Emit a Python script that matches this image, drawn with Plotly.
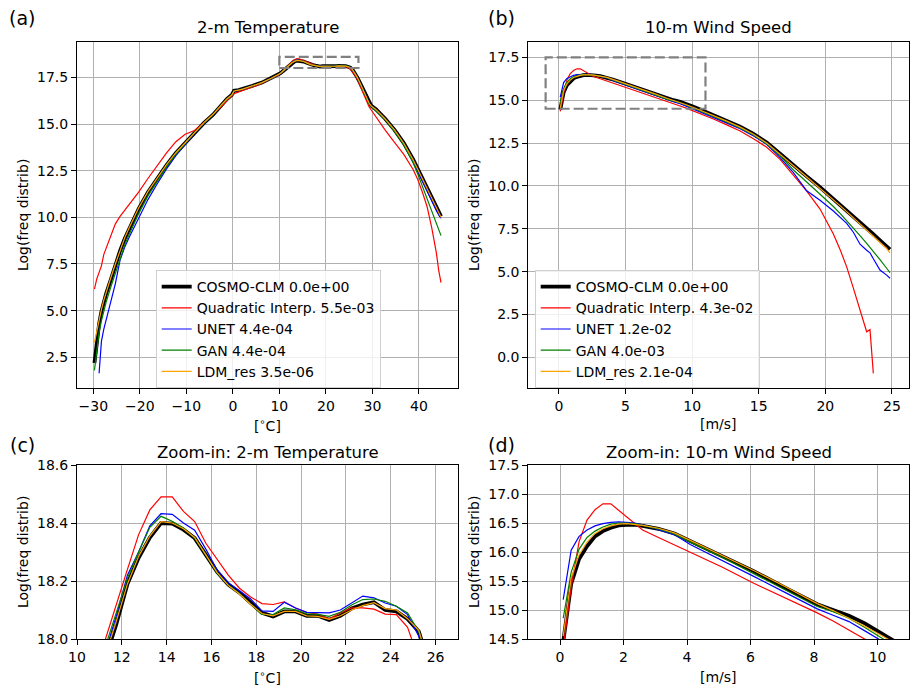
import plotly.graph_objects as go

# temperature bins [deg C] and log frequency per model
temp_bins = [-29.75, -29.25, -28.75, -28.25, -27.75, -27.25, -26.25, -25.25, -24.25, -23.25,
             -22.25, -20.25, -18.25, -16.25, -14.25, -12.25, -10.25, -8.25, -6.25, -4.25,
             -2.25, -1.25, -0.25, 0.25, 1.25, 2.25, 4.25, 6.25, 8.25, 9.75, 10.25,
             10.75, 11.25, 11.75, 12.25, 12.75, 13.25, 13.75, 14.25, 14.75, 15.25, 15.75,
             16.25, 16.75, 17.25, 17.75, 18.25, 18.75, 19.25, 19.75, 20.25, 20.75, 21.25,
             21.75, 22.25, 22.75, 23.25, 23.75, 24.25, 24.75, 25.25, 25.75, 26.25, 26.75,
             27.25, 27.75, 28.25, 28.75, 29.25, 29.75, 30.75, 31.75, 32.75, 34.75, 36.75,
             38.75, 39.75, 40.75, 41.75, 42.75, 43.25, 43.75, 44.25, 44.75]

temp_cosmo = [2.2, 3.5, 4.3, 4.95, 5.45, 5.9, 6.65, 7.45, 8.2, 8.85, 9.4, 10.45, 11.35, 12.1,
              12.8, 13.45, 14.0, 14.55, 15.05, 15.5, 16.1, 16.35, 16.55, 16.78, 16.82, 16.88,
              17.05, 17.22, 17.45, 17.65, 17.72,
              17.83, 17.93, 18.05, 18.19, 18.28, 18.35, 18.40, 18.398, 18.377, 18.348, 18.29,
              18.232, 18.188, 18.16, 18.125, 18.09, 18.078, 18.095, 18.095, 18.08, 18.08,
              18.066, 18.08, 18.105, 18.119, 18.127, 18.10, 18.095, 18.069, 18.026, 17.9,
              17.72, 17.5,
              17.25, 16.98, 16.68, 16.4, 16.15, 15.98, 15.79, 15.54, 15.28, 14.69, 13.98,
              13.1, 12.6, 12.08, 11.57, 11.05, 10.8, 10.55, 10.3, 10.05]

temp_quad = [6.15, 6.7, 7.05, 7.4, 8.0, 8.35, 8.97, 9.65, 10.05, 10.36, 10.7, 11.35, 12.08,
             12.8, 13.45, 14.05, 14.45, 14.65, 15.05, 15.5, 16.0, 16.25, 16.45, 16.62, 16.72,
             16.8, 16.98, 17.18, 17.4, 17.6, 17.72,
             17.85, 17.995, 18.12, 18.24, 18.36, 18.445, 18.49, 18.49, 18.44, 18.405, 18.33,
             18.275, 18.22, 18.175, 18.145, 18.122, 18.119, 18.128, 18.107, 18.092, 18.086,
             18.069, 18.09, 18.107, 18.107, 18.103, 18.086, 18.084, 18.04, 17.93, 17.8,
             17.62, 17.4,
             17.1, 16.8, 16.45, 16.15, 15.94, 15.75, 15.37, 15.02, 14.67, 14.02, 13.37,
             12.56, 12.03, 11.34, 10.58, 9.45, 8.85, 8.1, 7.16, 6.5]

temp_unet = [None, None, 1.65, 3.35, 4.0, 4.5, 5.46, 6.45, 7.7, 8.4, 8.95, 9.95, 10.95, 11.8,
             12.6, 13.3, 13.92, 14.5, 15.02, 15.5, 16.08, 16.33, 16.53, 16.76, 16.8, 16.87,
             17.04, 17.21, 17.43, 17.64, 17.71,
             17.83, 17.95, 18.08, 18.22, 18.30, 18.39, 18.432, 18.43, 18.40, 18.375, 18.31,
             18.238, 18.194, 18.167, 18.138, 18.097, 18.095, 18.127, 18.107, 18.092, 18.09,
             18.09, 18.10, 18.124, 18.148, 18.142, 18.124, 18.113, 18.084, 18.01, 17.88,
             17.7, 17.48,
             17.22, 16.95, 16.65, 16.35, 16.12, 15.95, 15.75, 15.5, 15.26, 14.64, 13.9,
             13.0, 12.5, 11.95, 11.4, 10.85, 10.6, 10.35, 10.15, 9.95]

temp_gan = [1.8, 3.0, 3.85, 4.45, 5.0, 5.45, 6.25, 7.0, 7.8, 8.5, 9.1, 10.2, 11.15, 11.95,
            12.7, 13.38, 13.96, 14.53, 15.04, 15.51, 16.09, 16.34, 16.54, 16.77, 16.81, 16.87,
            17.04, 17.21, 17.44, 17.64, 17.71,
            17.84, 17.97, 18.09, 18.21, 18.30, 18.385, 18.423, 18.406, 18.383, 18.348, 18.29,
            18.227, 18.186, 18.157, 18.12, 18.085, 18.084, 18.107, 18.101, 18.087, 18.085,
            18.078, 18.092, 18.117, 18.136, 18.138, 18.13, 18.113, 18.09, 18.025, 17.89,
            17.71, 17.49,
            17.22, 16.93, 16.62, 16.33, 16.1, 15.93, 15.72, 15.48, 15.24, 14.6, 13.88,
            12.93, 12.32, 11.65, 10.95, 10.3, 10.0, 9.68, 9.35, 9.02]

temp_ldm = [3.3, 3.95, 4.5, 5.05, 5.55, 6.0, 6.75, 7.5, 8.25, 8.9, 9.45, 10.5, 11.38, 12.12,
            12.82, 13.46, 14.01, 14.56, 15.06, 15.52, 16.1, 16.35, 16.55, 16.77, 16.82, 16.88,
            17.05, 17.22, 17.45, 17.65, 17.72,
            17.83, 17.94, 18.06, 18.19, 18.285, 18.355, 18.405, 18.40, 18.38, 18.35, 18.29,
            18.23, 18.185, 18.155, 18.12, 18.088, 18.08, 18.095, 18.095, 18.08, 18.078,
            18.068, 18.08, 18.1, 18.115, 18.125, 18.105, 18.1, 18.07, 18.03, 17.9,
            17.72, 17.5,
            17.25, 16.97, 16.67, 16.39, 16.14, 15.97, 15.78, 15.53, 15.27, 14.68, 13.97,
            13.08, 12.58, 12.06, 11.54, 11.02, 10.77, 10.5, 10.25, 10.0]

# wind speed bins [m/s] and log frequency per model
wind_bins = [0.1, 0.35, 0.6, 0.85, 1.1, 1.35, 1.6, 1.85, 2.1, 2.35, 2.6, 3.1, 3.6, 4.1,
             5.1, 6.1, 7.1, 8.1, 8.6, 9.1, 9.6, 10.1, 10.6, 11.6, 12.6, 13.6, 14.6, 15.6,
             16.6, 17.6, 18.6, 19.6, 20.6, 21.1, 21.6, 22.1, 22.6, 23.1, 23.35, 23.6, 24.1,
             24.6, 24.85]

wind_cosmo = [14.45, 15.45, 15.88, 16.1, 16.27, 16.36, 16.42, 16.46, 16.47, 16.47, 16.45,
              16.40, 16.32, 16.19, 15.93, 15.67, 15.38, 15.1, 15.0, 14.9, 14.77, 14.61, 14.45,
              14.12, 13.8, 13.45, 13.03, 12.53, 11.88, 11.2, 10.56, 9.92, 9.25, 8.9, 8.56,
              8.2, 7.86, 7.52, 7.35, 7.18, 6.83, 6.48, 6.3]

wind_quad = [14.35, 15.4, 16.18, 16.55, 16.73, 16.83, 16.83, 16.72, 16.61, 16.5, 16.38,
             16.25, 16.12, 15.99, 15.74, 15.46, 15.21, 14.95, 14.81, 14.66, 14.52, 14.37,
             14.22, 13.9, 13.56, 13.2, 12.75, 12.25, 11.55, 10.6, 9.7, 8.65, 7.2, 6.3, 5.28,
             4.04, 2.7, 1.5, 1.62, -0.93, None, None, None]

wind_unet = [15.18, 16.03, 16.27, 16.38, 16.45, 16.49, 16.51, 16.52, 16.51, 16.5, 16.47,
             16.39, 16.3, 16.13, 15.86, 15.58, 15.3, 15.02, 14.91, 14.8, 14.64, 14.48, 14.32,
             14.0, 13.68, 13.33, 12.93, 12.43, 11.65, 10.78, 9.72, 9.17, 8.54, 8.18, 7.82,
             7.3, 6.6, 6.25, 6.1, 5.75, 5.1, 4.8, 4.62]

wind_gan = [14.86, 15.65, 16.05, 16.25, 16.36, 16.43, 16.48, 16.5, 16.5, 16.49, 16.46,
            16.4, 16.31, 16.17, 15.91, 15.63, 15.35, 15.06, 14.97, 14.86, 14.7, 14.53, 14.37,
            14.05, 13.73, 13.38, 12.97, 12.45, 11.75, 10.93, 10.23, 9.54, 8.8, 8.4, 7.98,
            7.55, 7.1, 6.65, 6.42, 6.19, 5.7, 5.2, 4.95]

wind_ldm = [14.55, 15.55, 15.95, 16.17, 16.32, 16.4, 16.45, 16.48, 16.49, 16.48, 16.46,
            16.41, 16.33, 16.2, 15.94, 15.68, 15.4, 15.11, 14.99, 14.86, 14.72, 14.57, 14.42,
            14.1, 13.78, 13.43, 13.01, 12.5, 11.86, 11.18, 10.52, 9.87, 9.2, 8.85, 8.5,
            8.14, 7.8, 7.46, 7.28, 7.1, 6.74, 6.35, 6.1]

model_names = ["COSMO-CLM", "Quadratic Interp.", "UNET", "GAN", "LDM_res"]
temp_scores = [0.0, 5.5e-03, 4.4e-04, 4.4e-04, 3.5e-06]
wind_scores = [0.0, 4.3e-02, 1.2e-02, 4.0e-03, 2.1e-04]

temp_series = [temp_cosmo, temp_quad, temp_unet, temp_gan, temp_ldm]
wind_series = [wind_cosmo, wind_quad, wind_unet, wind_gan, wind_ldm]

colors = ["black", "red", "blue", "green", "orange"]
widths = [3.8, 1.2, 1.2, 1.2, 1.2]

W, H = 920, 694
FONT = "DejaVu Sans"


def px_x(p):
    return p / W


def px_y(p):
    return 1 - p / H


fig = go.Figure()

for i, name in enumerate(model_names):
    line = dict(color=colors[i], width=widths[i])
    # (a) full temperature
    fig.add_trace(go.Scatter(x=temp_bins, y=temp_series[i], mode="lines", line=line,
                             name=f"{name} {temp_scores[i]:.1e}", xaxis="x", yaxis="y",
                             legend="legend"))
    # (c) zoom temperature
    fig.add_trace(go.Scatter(x=temp_bins, y=temp_series[i], mode="lines", line=line,
                             showlegend=False, xaxis="x3", yaxis="y3"))
    # (b) full wind
    fig.add_trace(go.Scatter(x=wind_bins, y=wind_series[i], mode="lines", line=line,
                             name=f"{name} {wind_scores[i]:.1e}", xaxis="x2", yaxis="y2",
                             legend="legend2"))
    # (d) zoom wind
    fig.add_trace(go.Scatter(x=wind_bins, y=wind_series[i], mode="lines", line=line,
                             showlegend=False, xaxis="x4", yaxis="y4"))

axis_common = dict(
    showgrid=True, gridcolor="#b0b0b0", gridwidth=1,
    showline=True, linecolor="black", linewidth=1.1, mirror=True,
    ticks="outside", ticklen=5, tickwidth=1.1, tickcolor="black",
    tickfont=dict(family=FONT, size=14, color="black"),
    zeroline=False, automargin=False,
)

left_dom = [px_x(77), px_x(458)]
right_dom = [px_x(528.3), px_x(909.3)]
top_dom = [px_y(388.3), px_y(41.7)]
bot_dom = [px_y(639), px_y(465)]

fig.update_layout(
    xaxis=dict(axis_common, domain=left_dom, anchor="y", range=[-33.5, 48.4],
               tickvals=[-30, -20, -10, 0, 10, 20, 30, 40]),
    yaxis=dict(axis_common, domain=top_dom, anchor="x", range=[0.84, 19.41],
               tickvals=[2.5, 5, 7.5, 10, 12.5, 15, 17.5], tickformat=".1f"),
    xaxis2=dict(axis_common, domain=right_dom, anchor="y2", range=[-2.3, 26.3],
                tickvals=[0, 5, 10, 15, 20, 25]),
    yaxis2=dict(axis_common, domain=top_dom, anchor="x2", range=[-1.8, 18.41],
                tickvals=[0, 2.5, 5, 7.5, 10, 12.5, 15, 17.5], tickformat=".1f"),
    xaxis3=dict(axis_common, domain=left_dom, anchor="y3", range=[10, 27],
                tickvals=[10, 12, 14, 16, 18, 20, 22, 24, 26]),
    yaxis3=dict(axis_common, domain=bot_dom, anchor="x3", range=[18.0, 18.6],
                tickvals=[18.0, 18.2, 18.4, 18.6], tickformat=".1f"),
    xaxis4=dict(axis_common, domain=right_dom, anchor="y4", range=[-1, 11],
                tickvals=[0, 2, 4, 6, 8, 10]),
    yaxis4=dict(axis_common, domain=bot_dom, anchor="x4", range=[14.5, 17.5],
                tickvals=[14.5, 15, 15.5, 16, 16.5, 17, 17.5], tickformat=".1f"),
)

legend_common = dict(
    xanchor="left", yanchor="top",
    bgcolor="rgba(255,255,255,0.8)", bordercolor="#d0d0d0", borderwidth=1,
    font=dict(family=FONT, size=14, color="black"),
    tracegroupgap=0, itemwidth=30,
)
fig.update_layout(
    legend=dict(legend_common, x=px_x(155.7), y=px_y(270)),
    legend2=dict(legend_common, x=px_x(534.7), y=px_y(270)),
)

# dashed zoom boxes
fig.add_shape(type="rect", xref="x", yref="y", x0=10, x1=27, y0=18.0, y1=18.6,
              line=dict(color="gray", width=2.2, dash="10px,4px"))
fig.add_shape(type="rect", xref="x2", yref="y2", x0=-1, x1=11, y0=14.5, y1=17.5,
              line=dict(color="gray", width=2.2, dash="10px,4px"))

annotations = []


def label(text, x, y, size, angle=0):
    annotations.append(dict(text=text, x=px_x(x), y=px_y(y), xref="paper", yref="paper",
                            showarrow=False, xanchor="center", yanchor="middle",
                            textangle=angle, font=dict(family=FONT, size=size, color="black")))


label("2-m Temperature", 267.5, 27, 16.5)
label("10-m Wind Speed", 718.8, 27, 16.5)
label("Zoom-in: 2-m Temperature", 267.5, 452, 16.5)
label("Zoom-in: 10-m Wind Speed", 718.8, 452, 16.5)
label("[<sup>∘</sup>C]", 267.5, 425, 14)
label("[m/s]", 718.8, 424, 14)
label("[<sup>∘</sup>C]", 267.5, 677, 14)
label("[m/s]", 718.8, 677, 14)
label("Log(freq distrib)", 23, 215, 14, -90)
label("Log(freq distrib)", 474, 215, 14, -90)
label("Log(freq distrib)", 23, 552, 14, -90)
label("Log(freq distrib)", 474, 552, 14, -90)
label("(a)", 22, 18, 19)
label("(b)", 501, 18, 19)
label("(c)", 22, 445, 19)
label("(d)", 501, 445, 19)

fig.update_layout(
    width=W, height=H,
    margin=dict(l=0, r=0, t=0, b=0),
    paper_bgcolor="white", plot_bgcolor="white",
    font=dict(family=FONT, size=14, color="black"),
    annotations=annotations,
)

# page body has a default 8px margin; remove it so the figure sits at the window origin
fig.write_html("out.html", config={"displayModeBar": False},
               post_script="document.body.style.margin='0px';")
